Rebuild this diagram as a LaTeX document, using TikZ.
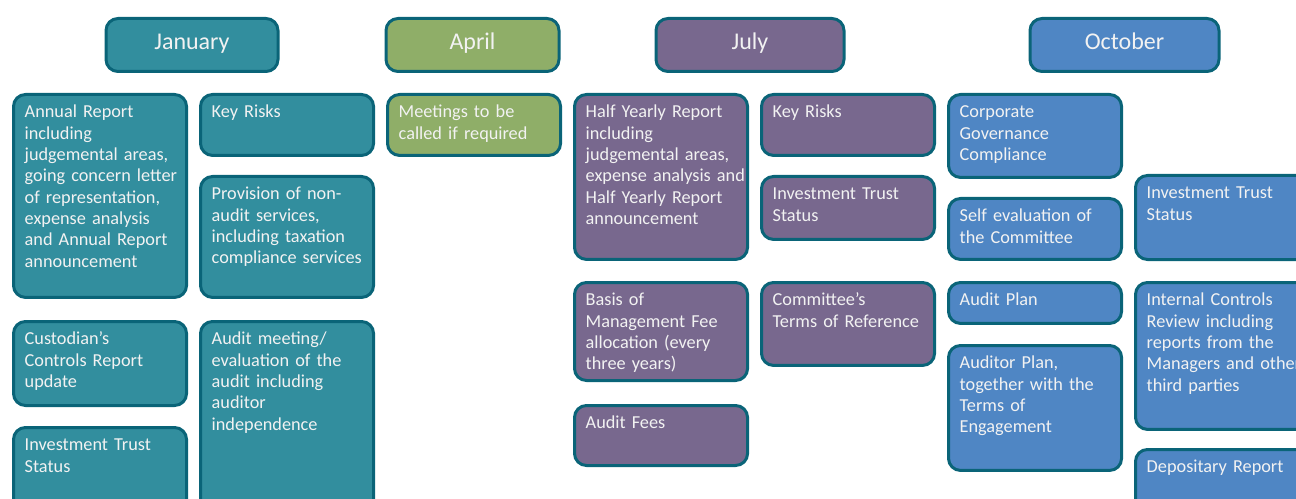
\documentclass[tikz,border=0pt]{standalone}
\usepackage{fontspec}
\setmainfont{Carlito}
\usetikzlibrary{positioning}

\definecolor{rim}{RGB}{10,100,120}
\definecolor{janfill}{RGB}{50,142,158}
\definecolor{aprfill}{RGB}{143,174,104}
\definecolor{julfill}{RGB}{120,104,142}
\definecolor{octfill}{RGB}{79,134,196}
\definecolor{ink}{RGB}{242,242,242}

\begin{document}
\begin{tikzpicture}[
            x=0.75pt, y=-0.75pt,
            month node/.style={draw=rim, line width=2.25pt, rounded corners=9pt, fill=#1, text=ink,
                font=\fontsize{18pt}{21pt}\selectfont, minimum height=39.75pt,
                text height=11.5pt, text depth=5pt},
            item node/.style={draw=rim, line width=2.25pt, rounded corners=9pt, fill=#1, text=ink,
                font=\fontsize{13.7pt}{16pt}\selectfont, anchor=north west, align=left,
                text width=113pt, inner xsep=8.4pt, inner ysep=0pt, text height=17.6pt},
        ]
            \useasboundingbox (0,0) rectangle (1296,499);
            \clip (0,0) rectangle (1296,499);

            % month headers
            \node[month node=janfill, minimum width=129pt] (jan) at (192,45) {January};
            \node[month node=aprfill, minimum width=129.75pt] (apr) at (472.5,45) {April};
            \node[month node=julfill, minimum width=141pt] (jul) at (750,45) {July};
            \node[month node=octfill, minimum width=141.75pt] (oct) at (1124.5,45) {October};

            % January
            \node[item node=janfill, text depth=134.6pt] (annual) at (12,93)
                {Annual Report\\including\\\mbox{judgemental areas,}\\\mbox{going concern letter}\\of representation,\\expense analysis\\and Annual Report\\announcement};
            \node[item node=janfill, text depth=45.4pt] (custodian) at (12,320)
                {Custodian’s\\Controls Report\\update};
            \node[item node=janfill, text depth=51.4pt] (janstatus) at (12,426)
                {Investment Trust\\Status};
            \node[item node=janfill, text depth=28.1pt] (janrisks) at (199,93) {Key Risks};
            \node[item node=janfill, text depth=73.1pt] (nonaudit) at (199,175)
                {Provision of non-\\audit services,\\including taxation\\\mbox{compliance services}};
            \node[item node=janfill, text depth=130.9pt] (auditmeet) at (199,320)
                {Audit meeting/\\evaluation of the\\audit including\\auditor\\independence};

            % April
            \node[item node=aprfill, text depth=28.1pt] (meetings) at (386,93)
                {Meetings to be\\called if required};

            % July
            \node[item node=julfill, text depth=106.1pt] (halfyear) at (573,93)
                {Half Yearly Report\\including\\\mbox{judgemental areas,}\\\mbox{expense analysis and}\\Half Yearly Report\\announcement};
            \node[item node=julfill, text depth=55.9pt] (feebasis) at (573,281)
                {Basis of\\Management Fee\\allocation (every\\three years)};
            \node[item node=julfill, text depth=27.4pt] (auditfees) at (573,404) {Audit Fees};
            \node[item node=julfill, text depth=28.1pt] (julrisks) at (760,93) {Key Risks};
            \node[item node=julfill, text depth=29.6pt] (julstatus) at (760,175)
                {Investment Trust\\Status};
            \node[item node=julfill, text depth=44.6pt] (reference) at (760,281)
                {Committee’s\\\mbox{Terms of Reference}};

            % October
            \node[item node=octfill, text depth=44.6pt] (governance) at (947,93)
                {Corporate\\Governance\\Compliance};
            \node[item node=octfill, text depth=28.1pt] (selfeval) at (947,197)
                {Self evaluation of\\the Committee};
            \node[item node=octfill, text depth=13.1pt] (auditplan) at (947,281) {Audit Plan};
            \node[item node=octfill, text depth=76.1pt] (auditorplan) at (947,344)
                {Auditor Plan,\\together with the\\Terms of\\Engagement};
            \node[item node=octfill, text depth=45.4pt] (octstatus) at (1134,174)
                {Investment Trust\\Status};
            \node[item node=octfill, text depth=92.6pt] (controls) at (1134,281)
                {Internal Controls\\Review including\\reports from the\\\mbox{Managers and other}\\third parties};
            \node[item node=octfill, text depth=34.9pt] (depositary) at (1134,448)
                {Depositary Report};
        \end{tikzpicture}
\end{document}
